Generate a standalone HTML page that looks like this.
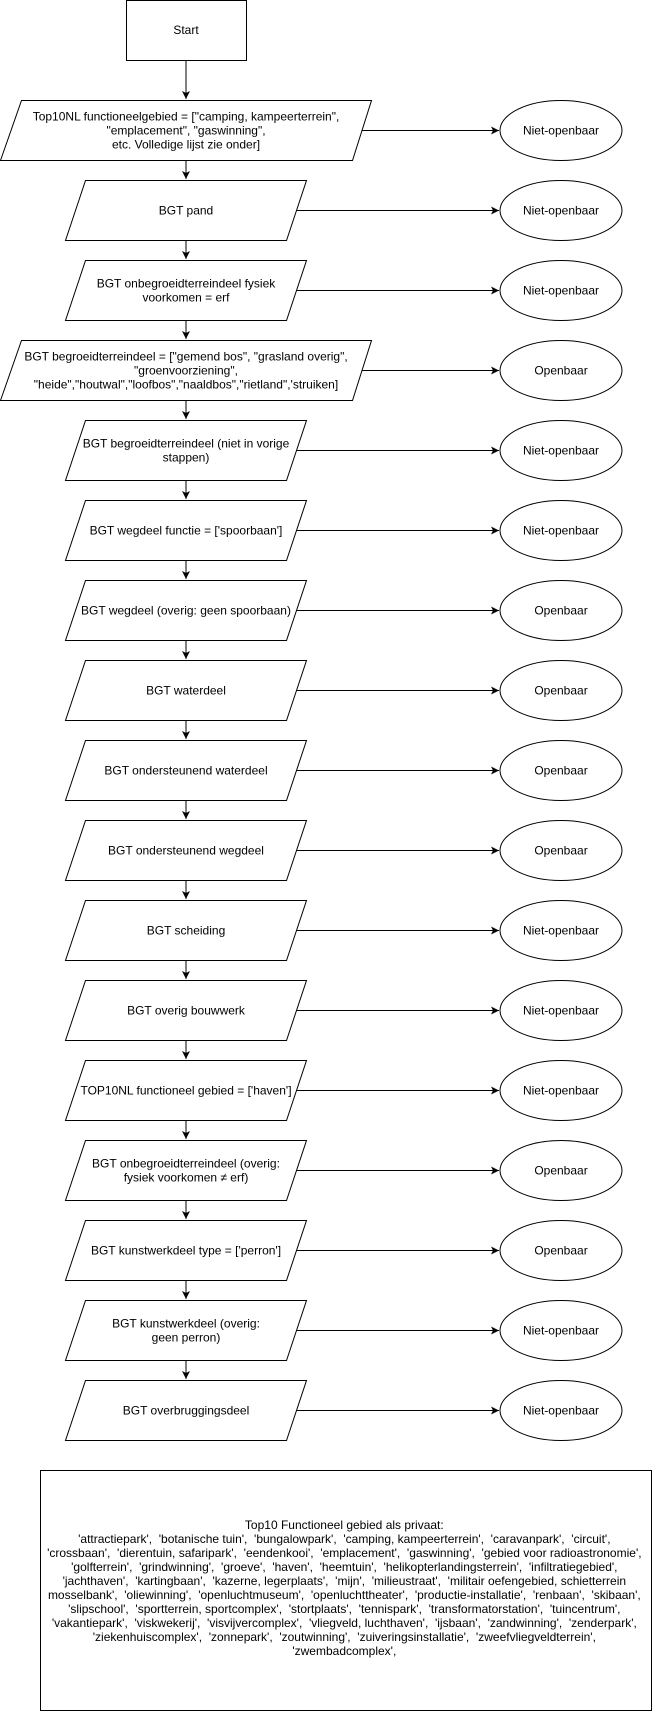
<!DOCTYPE html>
<html><head><meta charset="utf-8"><style>
html,body{margin:0;padding:0;background:#fff;}
svg{display:block;}
text{font-family:"Liberation Sans",Arial,sans-serif;font-size:12px;fill:#000;}
</style></head><body>
<svg width="652" height="1711" viewBox="0 0 652 1711" xmlns="http://www.w3.org/2000/svg">
<defs><marker id="a" markerWidth="10" markerHeight="10" refX="8" refY="4" orient="auto" markerUnits="userSpaceOnUse"><path d="M0,0 L8,4 L0,8 L2,4 Z" fill="#000"/></marker></defs>
<g stroke="#000" stroke-width="1" fill="#fff">
<rect x="126.5" y="0.5" width="120" height="60"/>
</g>
<text x="186" y="34" text-anchor="middle">Start</text>
<g id="flow"></g>
<rect x="40.5" y="1470.5" width="611" height="240" fill="#fff" stroke="#000"/>
<text text-anchor="middle" style="font-size:12px;white-space:pre" xml:space="preserve">
<tspan x="346" y="1529">Top10 Functioneel gebied als privaat:</tspan>
<tspan x="346" y="1543">'attractiepark',  'botanische tuin',  'bungalowpark',  'camping, kampeerterrein',  'caravanpark',  'circuit',</tspan>
<tspan x="346" y="1557">'crossbaan',  'dierentuin, safaripark',  'eendenkooi',  'emplacement',  'gaswinning',  'gebied voor radioastronomie',</tspan>
<tspan x="346" y="1571">'golfterrein',  'grindwinning',  'groeve',  'haven',  'heemtuin',  'helikopterlandingsterrein',  'infiltratiegebied',</tspan>
<tspan x="346" y="1585">'jachthaven',  'kartingbaan',  'kazerne, legerplaats',  'mijn',  'milieustraat',  'militair oefengebied, schietterrein</tspan>
<tspan x="346" y="1599">mosselbank',  'oliewinning',  'openluchtmuseum',  'openluchttheater',  'productie-installatie',  'renbaan',  'skibaan',</tspan>
<tspan x="346" y="1613">'slipschool',  'sportterrein, sportcomplex',  'stortplaats',  'tennispark',  'transformatorstation',  'tuincentrum',</tspan>
<tspan x="346" y="1627">'vakantiepark',  'viskwekerij',  'visvijvercomplex',  'vliegveld, luchthaven',  'ijsbaan',  'zandwinning',  'zenderpark',</tspan>
<tspan x="346" y="1641">'ziekenhuiscomplex',  'zonnepark',  'zoutwinning',  'zuiveringsinstallatie',  'zweefvliegveldterrein',</tspan>
<tspan x="346" y="1655">'zwembadcomplex',</tspan>
</text>
</svg>
<script>
var items=[
[1,["Top10NL functioneelgebied = [\"camping, kampeerterrein\",","\"emplacement\", \"gaswinning\",","etc. Volledige lijst zie onder]"],0],
[0,["BGT pand"],0],
[0,["BGT onbegroeidterreindeel fysiek","voorkomen = erf"],0],
[1,["BGT begroeidterreindeel = [\"gemend bos\", \"grasland overig\",","\"groenvoorziening\",","\"heide\",\"houtwal\",\"loofbos\",\"naaldbos\",\"rietland\",'struiken]"],1],
[0,["BGT begroeidterreindeel (niet in vorige","stappen)"],0],
[0,["BGT wegdeel functie = ['spoorbaan']"],0],
[0,["BGT wegdeel (overig: geen spoorbaan)"],1],
[0,["BGT waterdeel"],1],
[0,["BGT ondersteunend waterdeel"],1],
[0,["BGT ondersteunend wegdeel"],1],
[0,["BGT scheiding"],0],
[0,["BGT overig bouwwerk"],0],
[0,["TOP10NL functioneel gebied = ['haven']"],0],
[0,["BGT onbegroeidterreindeel (overig:","fysiek voorkomen \u2260 erf)"],1],
[0,["BGT kunstwerkdeel type = ['perron']"],1],
[0,["BGT kunstwerkdeel (overig:","geen perron)"],0],
[0,["BGT overbruggingsdeel"],0]
];
var NS="http://www.w3.org/2000/svg",g=document.getElementById("flow"),s="";
s+='<line x1="186" y1="61" x2="186" y2="99" stroke="#000" marker-end="url(#a)"/>';
for(var i=0;i<items.length;i++){
 var it=items[i],y=100+i*80,cy=y+30,pts,rx;
 if(it[0]){pts="21.5,"+(y+.5)+" 371.5,"+(y+.5)+" 352.5,"+(y+60.5)+" 0.5,"+(y+60.5);rx=362;}
 else{pts="85.5,"+(y+.5)+" 306.5,"+(y+.5)+" 286.5,"+(y+60.5)+" 65.5,"+(y+60.5);rx=296;}
 s+='<polygon points="'+pts+'" fill="#fff" stroke="#000"/>';
 s+='<line x1="'+rx+'" y1="'+(cy+.5)+'" x2="499" y2="'+(cy+.5)+'" stroke="#000" marker-end="url(#a)"/>';
 s+='<ellipse cx="561" cy="'+(cy+.5)+'" rx="61" ry="30" fill="#fff" stroke="#000"/>';
 s+='<text x="561" y="'+(cy+4.5)+'" text-anchor="middle">'+(it[2]?"Openbaar":"Niet-openbaar")+'</text>';
 var L=it[1],n=L.length,y0=cy+4.5-(n-1)*7;
 for(var j=0;j<n;j++){s+='<text x="186" y="'+(y0+j*14)+'" text-anchor="middle">'+L[j].replace(/&/g,"&amp;").replace(/</g,"&lt;")+'</text>';}
 if(i<items.length-1){s+='<line x1="186" y1="'+(y+61)+'" x2="186" y2="'+(y+79)+'" stroke="#000" marker-end="url(#a)"/>';}
}
g.innerHTML=s;
</script>
</body></html>
